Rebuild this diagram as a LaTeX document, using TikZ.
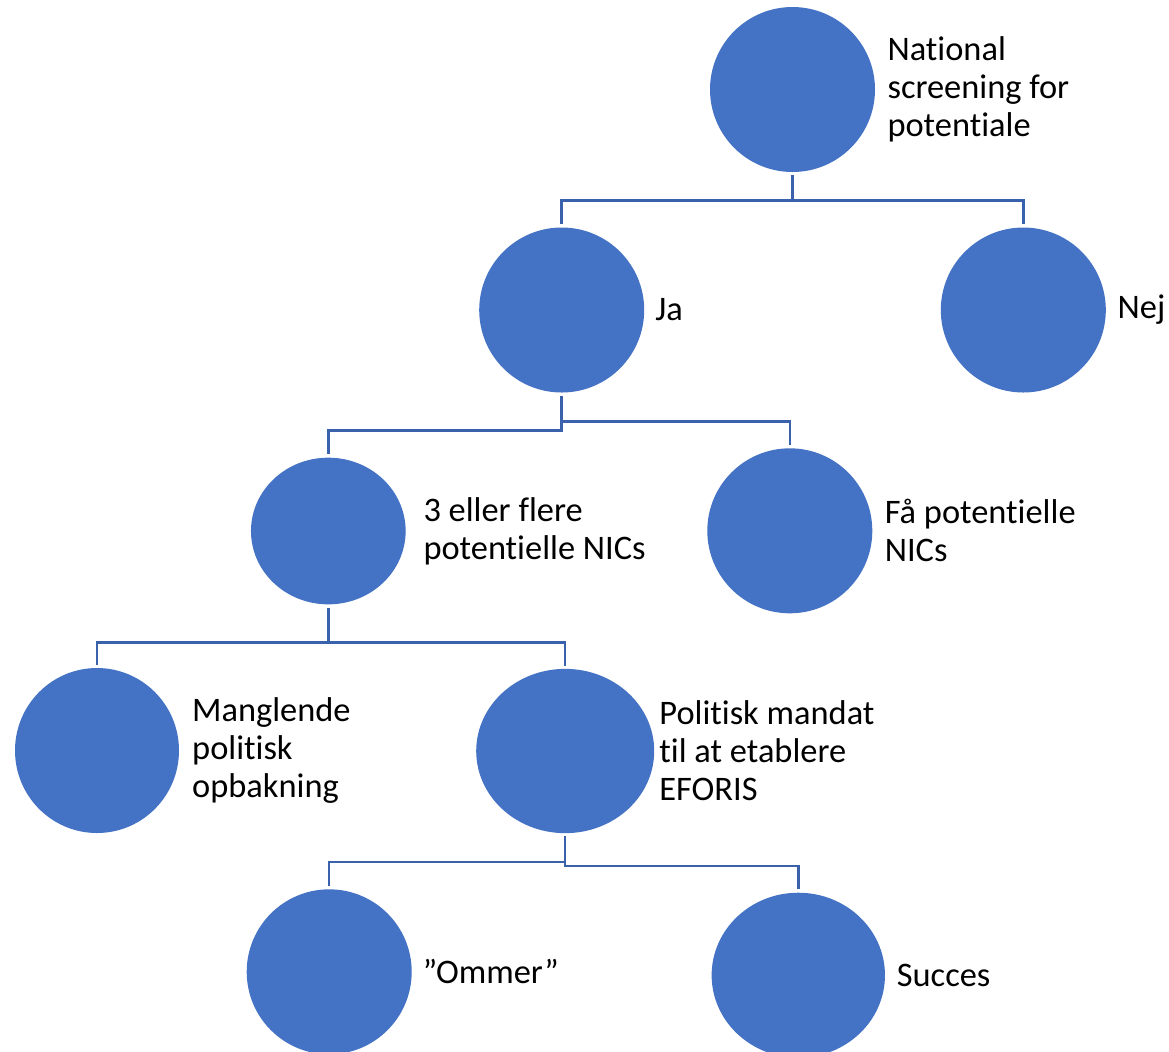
\documentclass[tikz,border=0pt]{standalone}
\usepackage{fontspec}
\setmainfont[RawFeature=-liga]{Carlito}
\usetikzlibrary{shapes.geometric,positioning}
\definecolor{bubblue}{HTML}{4472C4}
\definecolor{linkblue}{HTML}{3A62AC}
\tikzset{
  bub/.style={ellipse, fill=bubblue, inner sep=0pt, minimum width=123.75pt, minimum height=123.75pt},
  lbl/.style={anchor=west, inner sep=0pt, align=left, font=\fontsize{25.8}{28.5}\selectfont},
  link/.style={draw=linkblue, line width=1.9pt, shorten <=2.25pt, shorten >=2.25pt}
}
\begin{document}
\begin{tikzpicture}[x=0.75pt,y=0.75pt,yscale=-1,xscale=1]
\useasboundingbox (0,0) rectangle (1169,1051);

%Shape: Circles
\node[bub] (root) at (792.5,89.5) {};
\node[bub] (ja) at (561.7,310) {};
\node[bub] (nej) at (1023.3,310) {};
\node[bub, minimum width=116pt, minimum height=110pt] (three) at (328.3,531) {};
\node[bub] (faa) at (789.8,530.8) {};
\node[bub, minimum width=123pt] (mangl) at (97,750.5) {};
\node[bub, minimum width=133.5pt, minimum height=123.2pt] (polit) at (565.2,751) {};
\node[bub] (ommer) at (329.2,971.8) {};
\node[bub, minimum width=130pt] (succes) at (798.3,975.2) {};

%Connectors
\draw[link] (root.south) -- ++(0,28) -| (ja.north);
\draw[link] (root.south) -- ++(0,28) -| (nej.north);
\draw[link] (ja.south) -- ++(0,37.7) -| (three.north);
\draw[link] (ja.south) -- ++(0,28.7) -| (faa.north);
\draw[link] (three.south) -- ++(0,37.7) -| (mangl.north);
\draw[link] (three.south) -- ++(0,37.7) -| (polit.north);
\draw[link] (polit.south) -- ++(0,28.7) -| (ommer.north);
\draw[link] (polit.south) -- ++(0,32.7) -| (succes.north);

% Text Node
\node[lbl] (troot) at ([xshift=9pt]root.east) {National\\screening for\\potentiale};
% Text Node
\node[lbl] (tja) at ([xshift=8pt]ja.east) {Ja};
% Text Node
\node[lbl] (tnej) at ([xshift=8.5pt]nej.east) {Nej};
% Text Node
\node[lbl] (tthree) at ([xshift=13pt]three.east) {3 eller flere\\potentielle NICs};
% Text Node
\node[lbl] (tfaa) at ([xshift=9pt]faa.east) {Få potentielle\\NICs};
% Text Node
\node[lbl] (tmangl) at ([xshift=9.5pt]mangl.east) {Manglende\\politisk\\opbakning};
% Text Node
\node[lbl] (tpolit) at ([xshift=3.5pt]polit.east) {Politisk mandat\\til at etablere\\EFORIS};
% Text Node
\node[lbl] (tommer) at ([xshift=8pt]ommer.east) {”Ommer”};
% Text Node
\node[lbl] (tsucces) at ([xshift=8.5pt]succes.east) {Succes};

\end{tikzpicture}
\end{document}
